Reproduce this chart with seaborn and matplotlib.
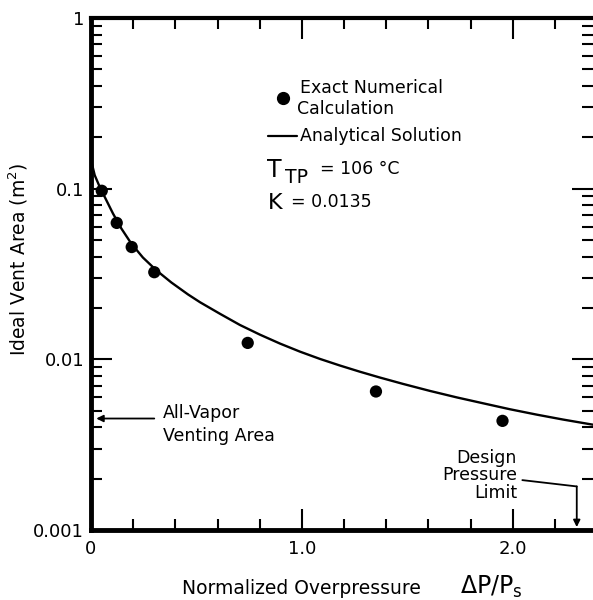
import pandas as pd
import matplotlib
matplotlib.use("Agg")
import matplotlib.pyplot as plt
from matplotlib.ticker import MultipleLocator, LogLocator, NullFormatter
import seaborn as sns

# exact numerical calculation (dots)
exact_x = [0.051, 0.122, 0.193, 0.300, 0.743, 1.351, 1.951]
exact_area = [0.0972, 0.0630, 0.0455, 0.0324, 0.01248, 0.00648, 0.00436]

# analytical solution (line)
analytic_x = [0.0, 0.0175, 0.041, 0.0725, 0.104, 0.144, 0.191, 0.246, 0.309,
              0.381, 0.46, 0.517, 0.611, 0.706, 0.801, 0.896, 0.991, 1.085,
              1.18, 1.275, 1.37, 1.479, 1.607, 1.735, 1.858, 1.986, 2.114,
              2.237, 2.38]
analytic_area = [0.147, 0.120, 0.1026, 0.0857, 0.0716, 0.0584, 0.0477, 0.0395,
                 0.0333, 0.0282, 0.0240, 0.0216, 0.0185, 0.0159, 0.01395,
                 0.01237, 0.01109, 0.01006, 0.0092, 0.00846, 0.00782, 0.00718,
                 0.00653, 0.00598, 0.00553, 0.0051, 0.00474, 0.00444, 0.00414]

all_vapor_area = 0.0045
design_limit = 2.303

x_ticks = [0, 1.0, 2.0]
x_ticklabels = ["0", "1.0", "2.0"]
y_ticks = [0.001, 0.01, 0.1, 1]
y_ticklabels = ["0.001", "0.01", "0.1", "1"]

exact_df = pd.DataFrame({"x": exact_x, "area": exact_area})
analytic_df = pd.DataFrame({"x": analytic_x, "area": analytic_area})

sns.set_style("ticks")
plt.rcParams["font.family"] = ["DejaVu Sans"]
plt.rcParams["mathtext.default"] = "regular"
plt.rcParams["text.color"] = "black"

W, H = 593, 600
fig = plt.figure(figsize=(W / 100, H / 100), dpi=100)
L, R, T, B = 91, 593, 18, 530
ax = fig.add_axes([L / W, 1 - B / H, (R - L) / W, (B - T) / H])
ax.set_yscale("log")

sns.lineplot(data=analytic_df, x="x", y="area", color="black", lw=1.7,
             estimator=None, ax=ax)
sns.scatterplot(data=exact_df, x="x", y="area", color="black", s=78,
                edgecolor="none", ax=ax, zorder=3)

ax.set_xlim(0, 2.38)
ax.set_ylim(0.001, 1)
ax.set_xlabel("")
ax.set_ylabel("")

ax.set_xticks(x_ticks, labels=x_ticklabels)
ax.xaxis.set_minor_locator(MultipleLocator(0.2))
ax.set_yticks(y_ticks, labels=y_ticklabels)
ax.yaxis.set_minor_locator(LogLocator(base=10, subs=range(2, 10)))
ax.yaxis.set_minor_formatter(NullFormatter())

ax.tick_params(which="both", direction="in", top=True, right=True,
               width=1.5, labelsize=13, colors="black")
ax.tick_params(which="major", length=15)
ax.tick_params(which="minor", length=8)
ax.tick_params(axis="x", pad=7)
ax.tick_params(axis="y", pad=5)

for side in ["left", "bottom"]:
    ax.spines[side].set_linewidth(3.5)
ax.spines["top"].set_linewidth(3)
ax.spines["right"].set_visible(False)
for s in ax.spines.values():
    s.set_color("black")


def px(xp, yp):
    # figure pixel -> axes fraction
    return (xp - L) / (R - L), (B - yp) / (B - T)


tr = ax.transAxes
fs = 12.5

# legend-like annotations
ax.plot(*px(283, 98), "o", color="black", ms=8.5, transform=tr, clip_on=False)
ax.text(*px(300, 93), "Exact Numerical", fontsize=fs, transform=tr, va="baseline")
ax.text(*px(297, 114), "Calculation", fontsize=fs, transform=tr, va="baseline")
x0, y0 = px(268, 136)
x1, _ = px(297, 136)
ax.plot([x0, x1], [y0, y0], color="black", lw=1.6, transform=tr)
ax.text(*px(300, 141), "Analytical Solution", fontsize=fs, transform=tr, va="baseline")

ax.text(*px(267, 177), "T", fontsize=17, transform=tr, va="baseline")
ax.text(*px(285, 183), "TP", fontsize=13.5, transform=tr, va="baseline")
ax.text(*px(320, 174), "= 106 °C", fontsize=fs, transform=tr, va="baseline")
ax.text(*px(268, 209), "K", fontsize=16, transform=tr, va="baseline")
ax.text(*px(291, 207), "= 0.0135", fontsize=fs, transform=tr, va="baseline")

# all-vapor venting area arrow
ax.annotate("", xy=(0.025, all_vapor_area), xytext=(0.30, all_vapor_area),
            arrowprops=dict(arrowstyle="-|>", color="black", lw=1.3,
                            mutation_scale=10, shrinkA=0, shrinkB=0))
ax.text(*px(163, 418), "All-Vapor", fontsize=fs, transform=tr, va="baseline")
ax.text(*px(163, 441), "Venting Area", fontsize=fs, transform=tr, va="baseline")

# design pressure limit
ax.text(*px(517, 463), "Design", fontsize=fs, transform=tr, va="baseline", ha="right")
ax.text(*px(517, 480), "Pressure", fontsize=fs, transform=tr, va="baseline", ha="right")
ax.text(*px(517, 498), "Limit", fontsize=fs, transform=tr, va="baseline", ha="right")
ax.plot([2.045, design_limit], [0.00196, 0.0018], color="black", lw=1.3)
ax.annotate("", xy=(design_limit, 0.00104), xytext=(design_limit, 0.0018),
            arrowprops=dict(arrowstyle="-|>", color="black", lw=1.3,
                            mutation_scale=10, shrinkA=0, shrinkB=0))

# axis labels
fig.text(301 / W, 1 - 594 / H, "Normalized Overpressure", fontsize=13.5,
         va="baseline", ha="center")
fig.text(460 / W, 1 - 594 / H, r"$\Delta P/P_s$", fontsize=17, va="baseline")
fig.text(18 / W, 1 - 259.5 / H, r"Ideal Vent Area (m$^2$)", fontsize=13.5,
         rotation=90, ha="center", va="center")

fig.savefig("out.png", dpi=100)
